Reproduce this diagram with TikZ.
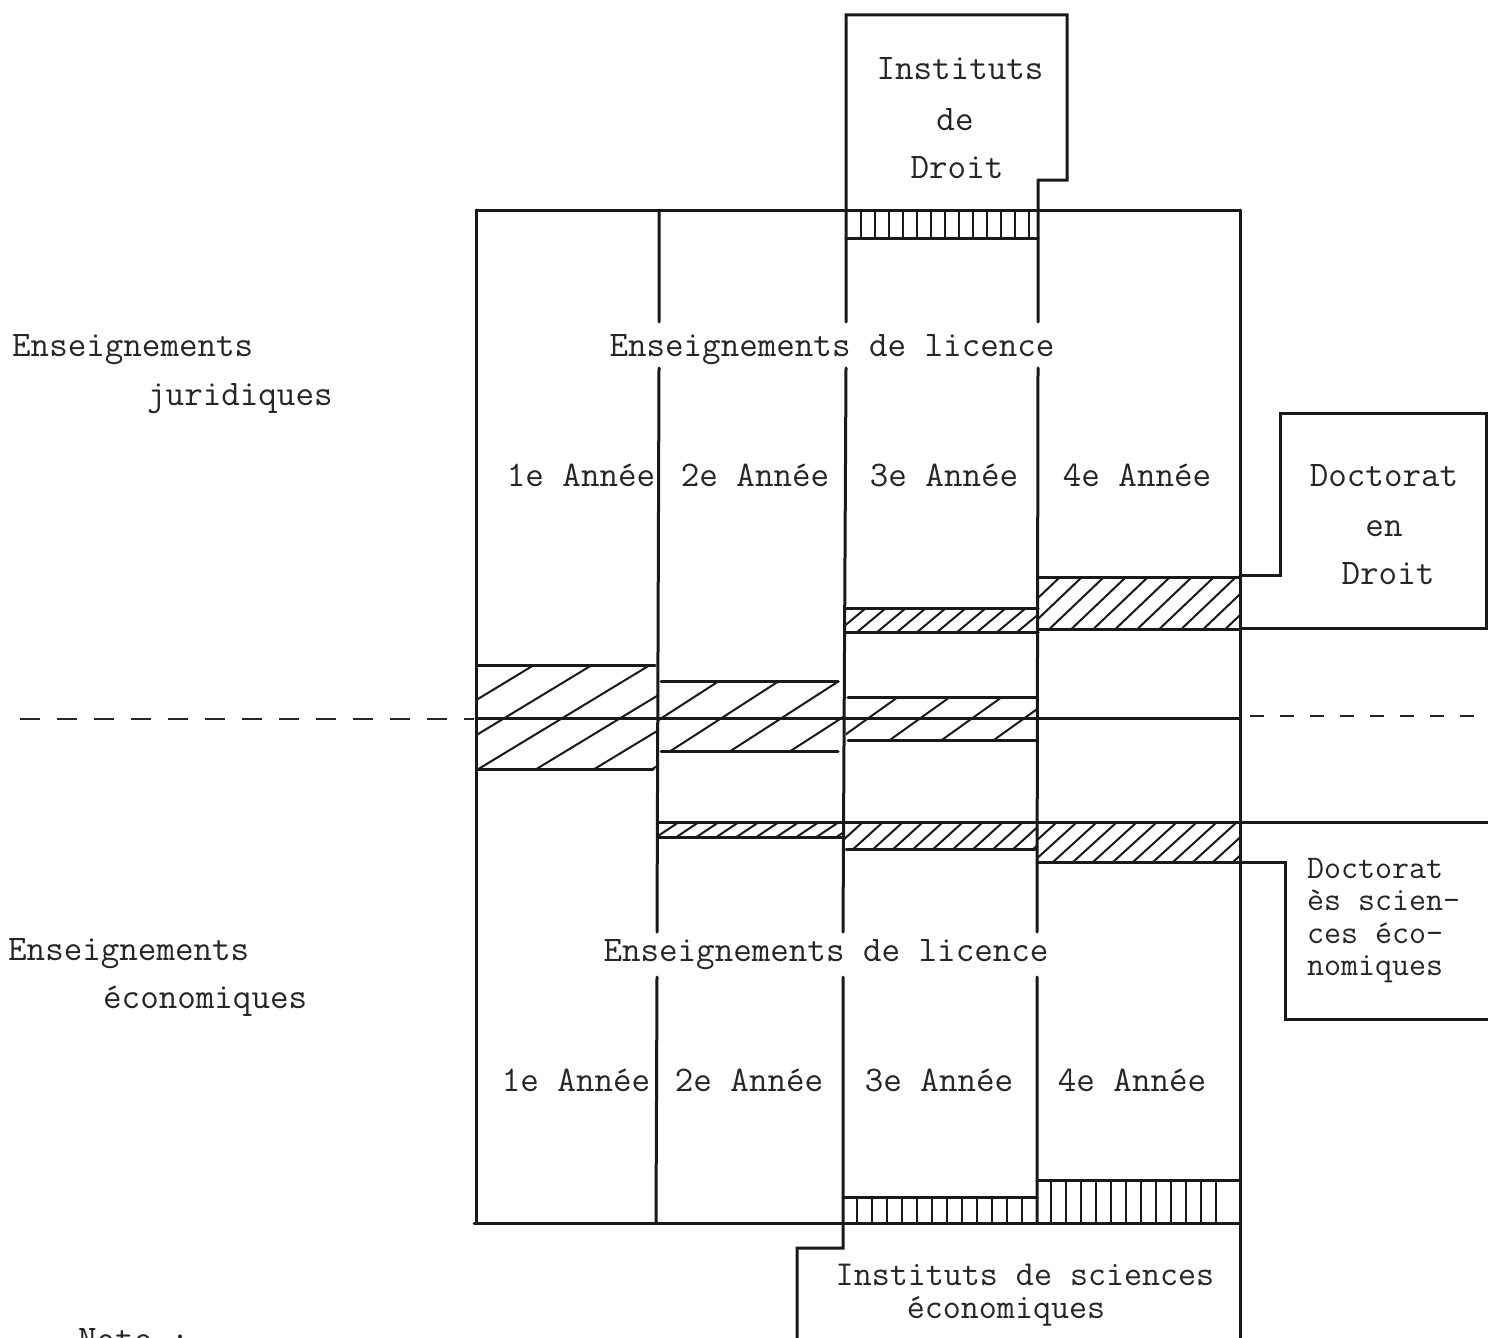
\documentclass[tikz,border=0pt]{standalone}
\usepackage{fontspec}
\newcommand{\myhatch}[6]{% x1, ytop, x2, ybottom, spacing, k
  \begin{scope}
    \clip (#1,#2) rectangle (#3,#4);
    \pgfmathsetmacro{\hh}{#4-#2}
    \pgfmathsetmacro{\xs}{#1-\hh*#6}
    \pgfmathsetmacro{\xn}{\xs+#5}
    \foreach \s in {\xs,\xn,...,#3} \draw[hl] (\s,#4) -- ++({\hh*#6},{-\hh});
  \end{scope}}
\newcommand{\myvhatch}[5]{% xfirst, ytop, xlast, ybottom, spacing
  \pgfmathsetmacro{\xn}{#1+#5}
  \foreach \s in {#1,\xn,...,#3} \draw[hl] (\s,#2) -- (\s,#4);}
\begin{document}
\begin{tikzpicture}[x=1pt,y=-1pt,
  ln/.style={line width=3pt, black!90, line cap=round, line join=miter},
  hl/.style={line width=2pt, black!90},
  dsh/.style={line width=2.8pt, black!85, dash pattern=on 20pt off 17pt},
  txt/.style={font=\fontsize{36}{40}\selectfont\ttfamily, text=black!85, inner sep=0pt},
  stxt/.style={font=\fontsize{33}{36}\selectfont\ttfamily, text=black!85, inner sep=0pt}]
\useasboundingbox (0,0) rectangle (1488,1338);
\clip (0,0) rectangle (1488,1338);
\fill[white] (0,0) rectangle (1488,1338);

% ---------- hatched bands (diagonal) ----------
\myhatch{476}{665}{659}{769}{58}{1.65}
\myhatch{659}{681}{843}{751}{60}{1.55}
\myhatch{846}{697}{1038}{740}{52}{1.4}
\myhatch{846}{608}{1038}{632}{20}{1.2}
\myhatch{1038}{577}{1240}{629}{22}{1.05}
\myhatch{659}{822}{843}{837}{20}{1.5}
\myhatch{843}{822}{1037}{849}{20}{1.1}
\myhatch{1037}{822}{1240}{862}{20}{1.1}

% ---------- band outlines ----------
\draw[ln] (478,665) -- (655,665) (478,769) -- (653,769);
\draw[ln] (661,681) -- (838,681) (661,751) -- (838,751);
\draw[ln] (848,697) -- (1036,697) (848,740) -- (1036,740);
\draw[ln] (846,608) -- (1038,608) (846,632) -- (1038,632);
\draw[ln] (1038,577) -- (1240,577) (1038,629) -- (1240,629);
\draw[ln] (659,822) -- (1500,822);
\draw[ln] (659,837) -- (843,837) (846,849) -- (1035,849);
\draw[ln] (1037,862) -- (1285,862) -- (1285,1019) -- (1500,1019);
\draw[ln] (476,718) -- (1240,718);

% ---------- dashed separator ----------
\draw[dsh] (20,719) -- (474,719);
\draw[dsh, dash pattern=on 14pt off 16pt] (1250,716) -- (1488,716);

% ---------- vertical hatched bands (instituts) ----------
\draw[ln] (846,238) -- (1038,238);
\myvhatch{861}{210}{1031}{238}{14}
\draw[ln] (843,1197) -- (1037,1197);
\myvhatch{857}{1197}{1030}{1223}{15}
\draw[ln] (1037,1180) -- (1240,1180);
\myvhatch{1051}{1180}{1229}{1223}{15}

% ---------- main frame and columns ----------
\draw[ln] (476,210) -- (1240,210);
\draw[ln] (476,210) -- (476,1223);
\draw[ln] (474,1223) -- (1240,1223);
\draw[ln] (1240,210) -- (1240,1345);
\draw[ln] (659,210) -- (659,322) (659,368) -- (657,932) (657,977) -- (656,1223);
\draw[ln] (1038,180) -- (1067,180) -- (1067,15) -- (846,15) -- (846,322)
          (846,368) -- (843,932) (843,977) -- (843,1248) -- (797,1248) -- (797,1345);
\draw[ln] (1038,180) -- (1038,322) (1038,368) -- (1037,932) (1037,977) -- (1037,1223);

% Doctorat en Droit box
\draw[ln] (1240,575) -- (1280,575) -- (1280,413) -- (1486,413) -- (1486,628) -- (1240,628);

% ---------- texts ----------
\node[txt, anchor=base] (idr1) at (960,80) {Instituts};
\node[txt, anchor=base] (idr2) at (955,130) {de};
\node[txt, anchor=base] (idr3) at (957,178) {Droit};

\node[txt, anchor=base west] (ej1) at (12,356) {Enseignements};
\node[txt, anchor=base west] (ej2) at (147,405) {juridiques};
\node[txt, anchor=base west] (ee1) at (8,960) {Enseignements};
\node[txt, anchor=base west] (ee2) at (103,1008) {économiques};

\node[txt, anchor=base] (lic1) at (832,356) {Enseignements de licence};
\node[txt, anchor=base] (lic2) at (826,961) {Enseignements de licence};

\node[txt, anchor=base] (a1) at (581,486) {1e Année};
\node[txt, anchor=base] (a2) at (755,486) {2e Année};
\node[txt, anchor=base] (a3) at (944,486) {3e Année};
\node[txt, anchor=base] (a4) at (1137,486) {4e Année};
\node[txt, anchor=base] (b1) at (576,1091) {1e Année};
\node[txt, anchor=base] (b2) at (749,1091) {2e Année};
\node[txt, anchor=base] (b3) at (939,1091) {3e Année};
\node[txt, anchor=base] (b4) at (1132,1091) {4e Année};

\node[txt, anchor=base] (dd1) at (1384,486) {Doctorat};
\node[txt, anchor=base] (dd2) at (1384,536) {en};
\node[txt, anchor=base] (dd3) at (1388,584) {Droit};

\node[stxt, anchor=base west] (de1) at (1307,878) {Doctorat};
\node[stxt, anchor=base west] (de2) at (1307,910) {ès scien-};
\node[stxt, anchor=base west] (de3) at (1307,943) {ces éco-};
\node[stxt, anchor=base west] (de4) at (1307,975) {nomiques};

\node[txt, anchor=base, font=\fontsize{35}{38}\selectfont\ttfamily] (ise1) at (1025,1285) {Instituts de sciences};
\node[txt, anchor=base, font=\fontsize{35}{38}\selectfont\ttfamily] (ise2) at (1006,1318) {économiques};

\node[txt, anchor=base west] (note) at (78,1350) {Note :};
\end{tikzpicture}
\end{document}
